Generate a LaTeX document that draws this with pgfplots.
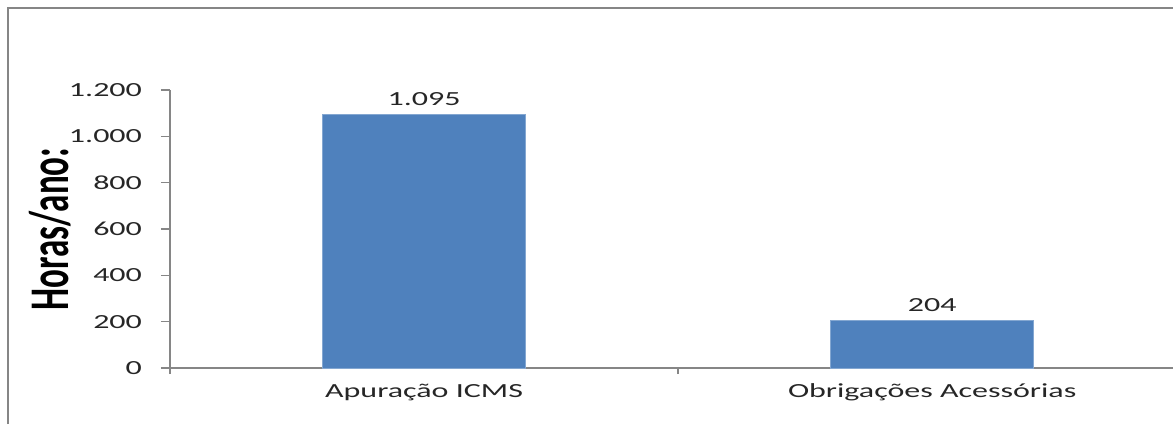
\documentclass[border=0pt]{standalone}
\usepackage{pgfplots}
\pgfplotsset{compat=1.18}
\usepackage{fontspec}
\setmainfont{Carlito}
% the reference is stretched sideways, so the text is too
\newfontfamily\widefont[FakeStretch=1.6]{Carlito}
\newfontfamily\tallfont[FakeStretch=0.625]{Carlito}
\definecolor{barblue}{HTML}{4F81BD}
\definecolor{axisgray}{HTML}{868686}

\begin{document}
\begin{tikzpicture}
\path[use as bounding box] (-85pt,-28pt) rectangle (501.5pt,184pt);
\draw[axisgray, line width=1pt] (-81pt,-28pt) -- (-81pt,180pt) -- (501.5pt,180pt);
\begin{axis}[
  scale only axis, width=501.5pt, height=139pt,
  ybar, bar width=0.4,
  xmin=-0.5, xmax=1.474, ymin=0, ymax=1200,
  ytick={0,200,...,1200},
  xtick={0,1}, xticklabels={Apuração ICMS, Obrigações Acessórias},
  minor xtick={-0.5,0.5,1.5},
  axis x line*=bottom, axis y line*=left,
  axis line style={axisgray, line width=1pt},
  tick align=outside,
  major tick length=4.5pt, minor tick length=3pt,
  major x tick style={draw=none},
  y tick style={axisgray, line width=0.8pt},
  minor x tick style={axisgray, line width=0.8pt},
  /pgf/number format/1000 sep={.},
  /pgf/number format/assume math mode=true,
  ticklabel style={font=\widefont\fontsize{10}{12}\selectfont, text=black!85},
  yticklabel style={xshift=-6pt},
  ylabel={Horas/ano:},
  ylabel style={at={(axis description cs:-0.12,0.5)}, anchor=center,
    font=\tallfont\bfseries\fontsize{28}{30}\selectfont},
  nodes near coords,
  every node near coord/.append style={font=\widefont\fontsize{10}{12}\selectfont, text=black!85, yshift=1pt},
]
\addplot[fill=barblue, draw=barblue!70!white] coordinates {(0,1095) (1,204)};
\end{axis}
\end{tikzpicture}
\end{document}
